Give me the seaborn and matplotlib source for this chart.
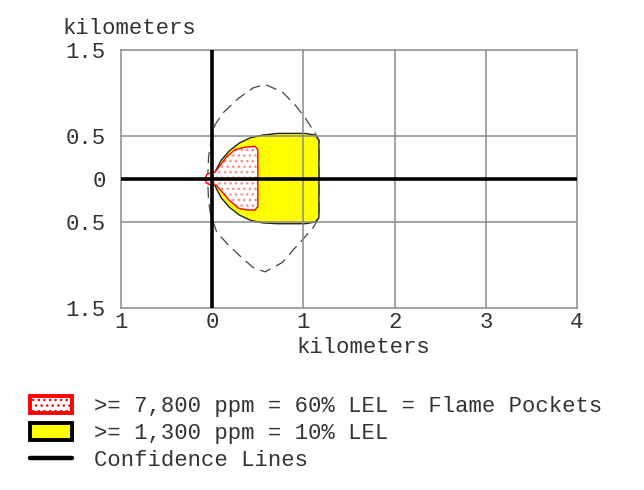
import matplotlib
matplotlib.use("Agg")
import matplotlib.pyplot as plt
from matplotlib.patches import Patch
from matplotlib.lines import Line2D
import seaborn as sns
import pandas as pd

sns.set_style("white")
plt.rcParams["font.family"] = ["Liberation Mono", "DejaVu Sans Mono"]
plt.rcParams["hatch.linewidth"] = 1.0

# Threat zone: >= 1,300 ppm (10% LEL), downwind / crosswind in km
zone_lel10_x = [0.00, 0.04, 0.10, 0.19, 0.30, 0.42, 0.55, 0.72, 1.02, 1.13, 1.17,
                1.17, 1.13, 1.02, 0.72, 0.55, 0.42, 0.30, 0.19, 0.10, 0.04, 0.00]
zone_lel10_y = [0.00, 0.10, 0.22, 0.33, 0.42, 0.48, 0.51, 0.53, 0.53, 0.51, 0.45,
                -0.45, -0.50, -0.52, -0.52, -0.51, -0.48, -0.42, -0.33, -0.22, -0.10, 0.00]

# Flame pockets: >= 7,800 ppm (60% LEL)
zone_lel60_x = [-0.02, 0.03, 0.09, 0.16, 0.25, 0.36, 0.47, 0.50, 0.50, 0.47,
                0.38, 0.29, 0.18, 0.11, 0.04, -0.02, -0.06, -0.08, -0.06]
zone_lel60_y = [0.07, 0.08, 0.16, 0.26, 0.34, 0.37, 0.38, 0.34, -0.32, -0.36,
                -0.36, -0.34, -0.24, -0.15, -0.07, -0.07, -0.05, 0.00, 0.05]

# Wind direction confidence lines
conf_x = [-0.02, 0.03, 0.12, 0.29, 0.45, 0.58, 0.77, 0.91, 1.02, 1.13, 1.17,
          1.17, 1.11, 1.02, 0.91, 0.77, 0.58, 0.45, 0.33, 0.18, 0.05, -0.02,
          -0.04, -0.05, -0.04, -0.02]
conf_y = [0.40, 0.63, 0.77, 0.94, 1.06, 1.10, 1.01, 0.86, 0.71, 0.53, 0.45,
          -0.45, -0.56, -0.67, -0.80, -0.97, -1.08, -1.03, -0.92, -0.77, -0.62, -0.40,
          -0.25, 0.00, 0.25, 0.40]

x_ticks = [-1, 0, 1, 2, 3, 4]
x_tick_labels = ["1", "0", "1", "2", "3", "4"]
y_ticks = [-1.5, -0.5, 0, 0.5, 1.5]
y_tick_labels = ["1.5", "0.5", "0", "0.5", "1.5"]

legend_labels = [">= 7,800 ppm = 60% LEL = Flame Pockets",
                 ">= 1,300 ppm = 10% LEL",
                 "Confidence Lines"]

conf = pd.DataFrame({"x": conf_x, "y": conf_y})

fig = plt.figure(figsize=(6.44, 4.90), dpi=100)
ax = fig.add_axes([121 / 644, 1 - 308 / 490, 456 / 644, 258 / 490])

FS = 16
grid_c = "#8a8a8a"
text_c = "#333333"

# confidence envelope (dashed)
sns.lineplot(data=conf, x="x", y="y", sort=False, estimator=None, ax=ax,
             color="#444444", lw=0.9, zorder=2)
ax.lines[-1].set_dashes([9, 5])

# 10% LEL zone
ax.fill(zone_lel10_x, zone_lel10_y, facecolor="#ffff00", edgecolor="#222222",
        lw=1.0, zorder=3)
# 60% LEL flame pockets: dotted fill plus red outline
ax.fill(zone_lel60_x, zone_lel60_y, facecolor="white", edgecolor="#ff8888",
        hatch="...", lw=0, zorder=4)
ax.fill(zone_lel60_x, zone_lel60_y, facecolor="none", edgecolor="red",
        lw=1.0, zorder=5)

ax.set_xlim(-1, 4)
ax.set_ylim(-1.5, 1.5)
ax.set_xticks(x_ticks)
ax.set_xticklabels(x_tick_labels)
ax.set_yticks(y_ticks)
ax.set_yticklabels(y_tick_labels)
ax.tick_params(axis="both", length=0, labelsize=FS, labelcolor=text_c)
ax.tick_params(axis="y", pad=11)
ax.tick_params(axis="x", pad=3)
ax.set_xlabel("")
ax.set_ylabel("")

# grid lines
for xv in [1, 2, 3]:
    ax.axvline(xv, color=grid_c, lw=1.1, zorder=6)
for yv in [0.5, -0.5]:
    ax.axhline(yv, color=grid_c, lw=1.1, zorder=6)
# source axes
ax.axvline(0, color="black", lw=2.6, zorder=7)
ax.axhline(0, color="black", lw=2.6, zorder=7)

for sp in ax.spines.values():
    sp.set_color(grid_c)
    sp.set_linewidth(1.1)

fig.text(62 / 644, 1 - 28 / 490, "kilometers", fontsize=FS, color=text_c,
         va="center", ha="left")
fig.text(363 / 644, 1 - 347 / 490, "kilometers", fontsize=FS, color=text_c,
         va="center", ha="center")

handles = [
    Patch(facecolor="white", edgecolor="red", hatch="...", lw=2.8),
    Patch(facecolor="#ffff00", edgecolor="black", lw=2.8),
    Line2D([0], [0], color="black", lw=3.2),
]
fig.legend(handles, legend_labels, loc="upper left",
           bbox_to_anchor=(14 / 644, 1 - 380 / 490), frameon=False,
           fontsize=FS, handlelength=1.9, handleheight=0.85, handletextpad=1.0,
           labelspacing=0.25, borderpad=0.2, labelcolor=text_c)

fig.savefig("out.png", dpi=100)
